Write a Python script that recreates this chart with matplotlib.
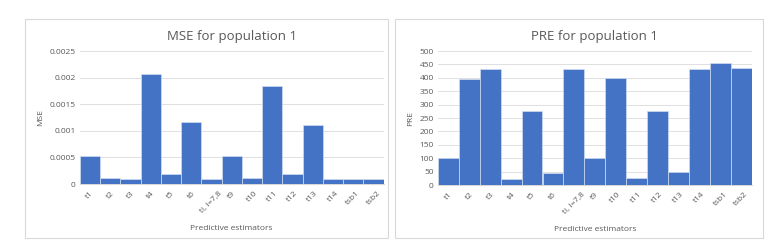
import matplotlib.pyplot as plt
from matplotlib.patches import Rectangle

plt.rcParams['font.family'] = ['Open Sans', 'DejaVu Sans']

estimators = ['t1', 't2', 't3', 't4', 't5', 't6', 'ti, i=7,8', 't9', 't10',
              't11', 't12', 't13', 't14', 'tsb1', 'tsb2']
mse = [0.00053, 0.00012, 0.00010, 0.00207, 0.00018, 0.00116, 0.00010, 0.00052,
       0.00011, 0.00185, 0.00018, 0.00111, 0.00010, 0.00009, 0.00010]
pre = [100, 397, 434, 24, 275, 45, 434, 100, 400, 27, 275, 47, 434, 456, 436]

mse_ticks = [0, 0.0005, 0.001, 0.0015, 0.002, 0.0025]
mse_ticklabels = ['0', '0.0005', '0.001', '0.0015', '0.002', '0.0025']
pre_ticks = list(range(0, 501, 50))

bar_col = '#4472C4'
txt_col = '#595959'

fig = plt.figure(figsize=(7.75, 2.41), dpi=100)

# panel borders
for x0, w in [(0.032, 0.468), (0.510, 0.474)]:
    fig.patches.append(Rectangle((x0, 0.012), w, 0.909, transform=fig.transFigure,
                                 fill=False, edgecolor='#d9d9d9', lw=0.8))


def draw(ax, vals, title, ylab, ticks, ticklabels):
    x = range(len(vals))
    ax.bar(x, vals, width=1.0, color=bar_col, edgecolor='#d0dcf0', linewidth=0.5, zorder=3)
    ax.set_xlim(-0.5, len(vals) - 0.5)
    ax.set_ylim(ticks[0], ticks[-1])
    ax.set_yticks(ticks)
    ax.set_yticklabels(ticklabels, fontsize=6, color=txt_col)
    ax.set_xticks(list(x))
    ax.set_xticklabels(estimators, rotation=45, fontsize=6, color=txt_col, ha='center')
    ax.tick_params(axis='y', length=0, pad=3)
    ax.tick_params(axis='x', length=0, pad=4)
    ax.grid(axis='y', color='#e0e0e0', lw=0.7, zorder=0)
    for s in ['top', 'right', 'left']:
        ax.spines[s].set_visible(False)
    ax.spines['bottom'].set_color('#d9d9d9')
    ax.set_title(title, fontsize=9.5, color=txt_col, pad=8)
    ax.set_ylabel(ylab, fontsize=6, color=txt_col, labelpad=4)
    ax.set_xlabel('Predictive estimators', fontsize=6, color=txt_col, labelpad=8)


ax1 = fig.add_axes([0.103, 0.2365, 0.392, 0.5515])
draw(ax1, mse, 'MSE for population 1', 'MSE', mse_ticks, mse_ticklabels)

ax2 = fig.add_axes([0.565, 0.232, 0.405, 0.556])
draw(ax2, pre, 'PRE for population 1', 'PRE', pre_ticks, [str(t) for t in pre_ticks])

fig.savefig('out.png', dpi=100)
